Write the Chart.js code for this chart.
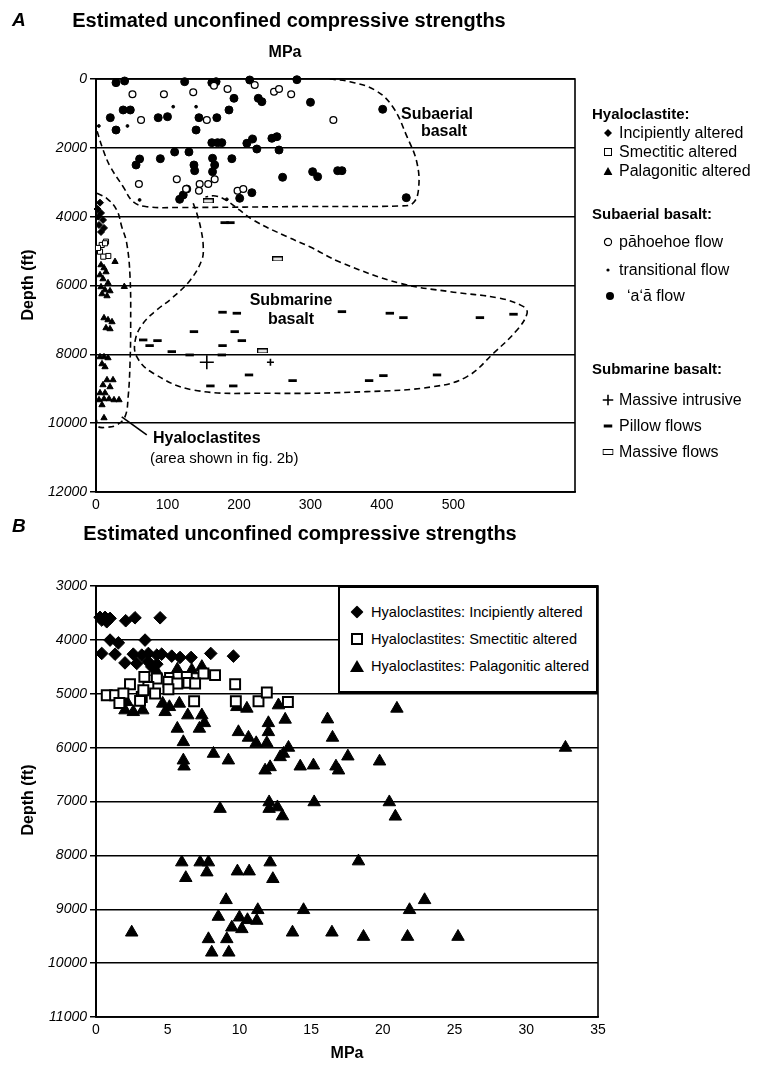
<!DOCTYPE html>
<html lang="en">
<head>
<meta charset="UTF-8">
<title>Estimated unconfined compressive strengths</title>
<script src="https://cdn.jsdelivr.net/npm/chart.js"></script>
<style>
  body { margin: 0; background: #fff; font-family: "Liberation Sans", Arial, Helvetica, sans-serif; color: #000; }
  #page { position: relative; width: 765px; height: 1074px; overflow: hidden; }
  .box { position: absolute; left: 0; }
  .t { position: absolute; white-space: nowrap; line-height: 1; transform: translateY(-50%); }
  .c { transform: translate(-50%, -50%); }
  .b { font-weight: bold; }
  .rot { transform: translate(-50%, -50%) rotate(-90deg); }
  .mk { position: absolute; transform: translate(-50%, -50%); }
  #legendB { position: absolute; left: 338px; top: 586px; width: 260px; height: 107px; box-sizing: border-box;
             border: 2px solid #000; background: #fff; }
  #legendB .t { font-size: 14.6px; }
</style>
</head>
<body>
<div id="page">
  <div class="box" style="top:0;width:765px;height:525px"><canvas id="chartA" width="765" height="525"></canvas></div>
  <div class="box" style="top:525px;width:765px;height:549px"><canvas id="chartB" width="765" height="549"></canvas></div>

  <!-- panel A text -->
  <div class="t b" style="left:12px;top:19px;font-size:19px;font-style:italic">A</div>
  <div class="t c b" style="left:289px;top:20px;font-size:20px">Estimated unconfined compressive strengths</div>
  <div class="t c b" style="left:285px;top:52px;font-size:16px">MPa</div>
  <div class="t rot b" style="left:28px;top:285px;font-size:16px">Depth (ft)</div>
  <div class="t c b" style="left:437px;top:114px;font-size:16px">Subaerial</div>
  <div class="t c b" style="left:444px;top:131px;font-size:16px">basalt</div>
  <div class="t c b" style="left:291px;top:300px;font-size:16px">Submarine</div>
  <div class="t c b" style="left:291px;top:319px;font-size:16px">basalt</div>
  <div class="t b" style="left:153px;top:438px;font-size:16px">Hyaloclastites</div>
  <div class="t" style="left:150px;top:457px;font-size:15px">(area shown in fig. 2b)</div>

  <!-- panel A legend -->
  <div class="t b" style="left:592px;top:113px;font-size:15px">Hyaloclastite:</div>
  <svg class="mk" style="left:608px;top:133px" width="8" height="8"><path d="M4 0 L8 4 L4 8 L0 4 Z" fill="#000"/></svg>
  <div class="t" style="left:619px;top:133px;font-size:16px">Incipiently altered</div>
  <svg class="mk" style="left:608px;top:152px" width="8" height="8"><rect x="0.5" y="0.5" width="7" height="7" fill="#fff" stroke="#000"/></svg>
  <div class="t" style="left:619px;top:152px;font-size:16px">Smectitic altered</div>
  <svg class="mk" style="left:608px;top:171px" width="9" height="8"><path d="M4.5 0 L9 8 L0 8 Z" fill="#000"/></svg>
  <div class="t" style="left:619px;top:171px;font-size:16px">Palagonitic altered</div>

  <div class="t b" style="left:592px;top:213px;font-size:15px">Subaerial basalt:</div>
  <svg class="mk" style="left:608px;top:242px" width="9" height="9"><circle cx="4.5" cy="4.5" r="3.6" fill="#fff" stroke="#000" stroke-width="1.2"/></svg>
  <div class="t" style="left:619px;top:242px;font-size:16px">pāhoehoe flow</div>
  <svg class="mk" style="left:608px;top:270px" width="4" height="4"><circle cx="2" cy="2" r="1.6" fill="#000"/></svg>
  <div class="t" style="left:619px;top:270px;font-size:16px">transitional flow</div>
  <svg class="mk" style="left:610px;top:296px" width="9" height="9"><circle cx="4.5" cy="4.5" r="4" fill="#000"/></svg>
  <div class="t" style="left:627px;top:296px;font-size:16px">ʻaʻā flow</div>

  <div class="t b" style="left:592px;top:368px;font-size:15px">Submarine basalt:</div>
  <svg class="mk" style="left:608px;top:400px" width="11" height="11"><path d="M5.5 0 V11 M0 5.5 H11" stroke="#000" stroke-width="1.6"/></svg>
  <div class="t" style="left:619px;top:400px;font-size:16px">Massive intrusive</div>
  <svg class="mk" style="left:608px;top:426px" width="9" height="4"><rect x="0" y="0.5" width="9" height="3" fill="#000"/></svg>
  <div class="t" style="left:619px;top:426px;font-size:16px">Pillow flows</div>
  <svg class="mk" style="left:608px;top:452px" width="11" height="6"><rect x="0.5" y="0.5" width="10" height="5" fill="#fff" stroke="#000"/></svg>
  <div class="t" style="left:619px;top:452px;font-size:16px">Massive flows</div>

  <!-- panel B text -->
  <div class="t b" style="left:12px;top:525px;font-size:19px;font-style:italic">B</div>
  <div class="t c b" style="left:300px;top:533px;font-size:20px">Estimated unconfined compressive strengths</div>
  <div class="t rot b" style="left:28px;top:800px;font-size:16px">Depth (ft)</div>
  <div class="t c b" style="left:347px;top:1053px;font-size:16px">MPa</div>

  <div id="legendB">
    <svg class="mk" style="left:17px;top:24px" width="13" height="13"><path d="M6.5 0 L13 6.5 L6.5 13 L0 6.5 Z" fill="#000"/></svg>
    <div class="t" style="left:31px;top:24px">Hyaloclastites: Incipiently altered</div>
    <svg class="mk" style="left:17px;top:51px" width="12" height="12"><rect x="1" y="1" width="10" height="10" fill="#fff" stroke="#000" stroke-width="2"/></svg>
    <div class="t" style="left:31px;top:51px">Hyaloclastites: Smectitic altered</div>
    <svg class="mk" style="left:17px;top:78px" width="14" height="12"><path d="M7 0 L14 12 L0 12 Z" fill="#000"/></svg>
    <div class="t" style="left:31px;top:78px">Hyaloclastites: Palagonitic altered</div>
  </div>
</div>

<script>
// ---------- Panel A data: [MPa, depth ft] ----------
const incipientA = [[5.6,3594],[3.2,4000],[7,3893],[9.8,4096],[4.2,4241],[11.2,4328],[7,4445],[2.1,3777]];
const smectiticA = [[8,4822],[14,4726],[5.6,5017],[17.2,5142],[10.2,5162],[12.6,4773],[2.8,4909]];
const palagoniticA = [[26.6,5308],[7,5403],[11.2,5490],[14,5607],[5.6,5694],[9.8,5810],[16.8,5926],[7,6042],
  [12.6,6130],[19.6,6159],[39.6,6034],[8.4,6246],[15.4,6304],[11.2,6943],[16.8,7001],[22.4,7059],[14,7233],
  [19.6,7262],[5.6,8076],[11.2,8076],[16.8,8105],[8.4,8279],[12.6,8366],[15.4,8744],[23.8,8744],[9.8,8889],
  [19.6,8947],[5.6,9122],[12.6,9122],[4.2,9325],[11.2,9296],[18.2,9296],[25.2,9325],[32.2,9325],[8.4,9470],[11.2,9848]];
const pahoehoeA = [[51,444],[95,444],[136,386],[165,195],[184,291],[222,174],[249,369],[256,291],[273,444],
  [63,1191],[155,1191],[332,1191],[60,3050],[113,2914],[145,3050],[157,3050],[166,2914],[144,3245],[198,3245],
  [206,3196],[126,3196]];
const transitionalA = [[108,805],[140,805],[44,1365],[4,1365],[61,3515],[183,3495]];
const aaA = [[28,107],[40,58],[124,78],[162,107],[168,78],[215,29],[281,20],[193,561],[227,561],[232,659],
  [300,677],[38,900],[48,900],[186,900],[20,1124],[87,1124],[100,1095],[144,1124],[169,1124],[28,1482],[140,1482],
  [162,1850],[170,1850],[176,1850],[211,1868],[219,1743],[246,1723],[253,1676],[225,2034],[256,2063],[110,2121],
  [130,2121],[61,2324],[56,2498],[90,2315],[137,2498],[138,2664],[163,2304],[166,2498],[163,2693],[190,2315],
  [261,2856],[127,3196],[117,3495],[122,3370],[218,3303],[201,3466],[401,880],[303,2693],[310,2838],[338,2664],
  [344,2664],[434,3448]];
const intrusiveA = [[155,8230],[244,8230]];
const pillowA = [[180,4174],[188,4174],[177,6777],[197,6806],[344,6760],[411,6806],[430,6934],[537,6934],
  [584,6835],[137,7341],[194,7341],[66,7582],[86,7602],[75,7747],[204,7602],[177,7747],[106,7922],[131,8018],
  [176,8018],[214,8599],[275,8764],[382,8764],[402,8619],[477,8599],[160,8918],[192,8918]];
const massiveFlowA = [[157,3544],[254,5229],[233,7902]];

// dashed field outlines (MPa, depth)
const subaerialOutline = [[327,0],[355,78],[390,320],[415,805],[435,1676],[449,2440],[451,3225],[443,3611],
  [425,3689],[299,3704],[118,3733],[71,3710],[52,3564],[38,3129],[20,2548],[10,2063],[1,1482]];
const submarineOutline = [[136,3611],[141,3901],[147,4387],[150,4872],[148,5258],[132,5839],[106,6371],
  [85,6711],[66,7097],[55,7579],[57,8067],[80,8549],[136,9035],[239,9131],[379,9084],[472,8939],[519,8648],
  [556,7968],[589,7291],[603,6807],[598,6615],[565,6371],[495,6179],[425,5935],[341,5316],[299,4872],
  [267,4581],[220,4096],[183,3535],[167,3399],[153,3428]];
const hyaloOutline = [[1.4,3320],[15,3466],[29,3806],[36,4291],[43,4773],[47.6,5743],[48.5,7097],[47.6,8259],
  [45,9229],[40.6,9810],[29,10051],[15,10118],[3.2,10101],[0.7,9906]];
const hyaloLeader = [[36,9819],[71,10342]];

const xTicksA = [0, 100, 200, 300, 400, 500];

// ---------- Panel B data: [MPa, depth ft] ----------
const incipientB = [[0.28,3582],[0.63,3582],[0.98,3601],[0.75,3664],[0.4,3632],[2.07,3645],[2.72,3590],
  [4.47,3590],[0.98,4004],[1.56,4055],[3.42,4004],[0.4,4252],[1.33,4265],[2.6,4265],[3.19,4283],[3.65,4252],
  [4.24,4283],[4.58,4265],[5.28,4302],[5.86,4326],[6.63,4326],[8.0,4252],[9.58,4302],[2.02,4427],[2.84,4438],
  [3.65,4408],[4.24,4451],[3.89,4501]];
const smectiticB = [[3.37,4687],[4.24,4717],[5.16,4706],[5.74,4687],[6.33,4687],[7.49,4624],[8.3,4655],
  [2.37,4823],[3.65,4873],[5.05,4780],[5.67,4810],[6.44,4799],[6.91,4810],[9.7,4823],[0.75,5027],[1.33,5027],
  [1.91,4996],[3.19,5059],[4.12,4996],[5.05,4916],[1.63,5171],[3.07,5133],[3.3,4934],[6.84,5139],[9.75,5139],
  [11.33,5139],[11.91,4977],[13.38,5152]];
const palagoniticB = [[2.14,5152],[2.02,5306],[2.6,5338],[3.26,5306],[4.65,5182],[4.82,5338],[5.12,5245],
  [5.81,5182],[4.24,4594],[5.67,4549],[6.68,4562],[7.38,4501],[6.4,5399],[7.38,5399],[7.56,5543],[5.67,5647],
  [7.21,5647],[6.09,5896],[9.82,5245],[10.52,5275],[12.72,5213],[13.19,5479],[16.14,5474],[12.02,5543],
  [9.93,5710],[10.63,5814],[11.17,5915],[12.02,5710],[11.91,5915],[16.49,5814],[13.42,6000],[13.07,6112],
  [12.84,6175],[8.19,6112],[9.23,6236],[6.09,6236],[6.14,6348],[12.14,6361],[11.79,6422],[14.24,6348],
  [15.16,6329],[16.73,6348],[20.98,5275],[17.56,6162],[19.77,6255],[16.91,6422],[32.73,6000],
  [8.65,7135],[12.07,7012],[12.07,7135],[12.65,7105],[13.0,7273],[15.21,7012],[20.45,7012],[20.87,7278],
  [5.98,8128],[7.26,8128],[7.84,8128],[7.73,8314],[6.26,8418],[9.86,8296],[10.68,8296],[12.14,8128],
  [12.33,8437],[18.3,8109],[9.07,8828],[8.53,9138],[10.0,9151],[10.56,9199],[11.21,9212],[11.28,9013],
  [9.47,9337],[10.17,9367],[14.47,9013],[21.86,9013],[22.91,8828],[2.49,9430],[13.7,9430],[16.45,9430],
  [18.65,9510],[21.72,9510],[25.24,9510],[7.84,9553],[9.12,9553],[8.07,9802],[9.26,9802]];

const FONT = '"Liberation Sans", Arial, Helvetica, sans-serif';

function pts(arr) { return arr.map(p => ({ x: p[0], y: p[1] })); }

function marker(label, data, style, radius, fill, extra) {
  return Object.assign({
    label: label, data: pts(data), pointStyle: style, pointRadius: radius,
    backgroundColor: fill, borderColor: '#000', borderWidth: 1, showLine: false, clip: false
  }, extra || {});
}

function outline(data, dashed) {
  return {
    data: pts(data), showLine: true, pointRadius: 0, borderColor: '#000', borderWidth: 1.6,
    borderDash: dashed ? [6, 4] : [], tension: dashed ? 0.4 : 0, fill: false
  };
}

// massive flow symbol: small open bar
function massiveFlowSymbol() {
  const c = document.createElement('canvas');
  c.width = 11; c.height = 5;
  const g = c.getContext('2d');
  g.fillStyle = '#fff'; g.fillRect(0, 0, 11, 5);
  g.strokeStyle = '#000'; g.lineWidth = 1.2;
  g.strokeRect(0.6, 0.6, 9.8, 3.8);
  return c;
}

// box around plot area
const frame = {
  id: 'frame',
  beforeDatasetsDraw(chart) {
    const a = chart.chartArea, ctx = chart.ctx;
    ctx.save();
    ctx.strokeStyle = '#000';
    ctx.lineWidth = 1.6;
    ctx.strokeRect(a.left, a.top, a.right - a.left, a.bottom - a.top);
    ctx.restore();
  }
};

function axes(xMin, xMax, xStep, xShow, yMin, yMax, yStep, yWidth) {
  return {
    x: {
      type: 'linear', min: xMin, max: xMax,
      grid: { display: false, drawTicks: false },
      border: { display: true, color: '#000', width: 1.6 },
      ticks: {
        stepSize: xStep, autoSkip: false, maxRotation: 0, color: '#000', padding: 5,
        font: { family: FONT, size: 14 },
        callback: v => (v <= xShow ? String(v) : '')
      },
      afterFit: s => { s.height = 28; }
    },
    y: {
      type: 'linear', reverse: true, min: yMin, max: yMax,
      grid: { color: '#000', lineWidth: 1.5, tickLength: 6 },
      border: { display: true, color: '#000', width: 2 },
      ticks: {
        stepSize: yStep, color: '#000', padding: 3,
        font: { family: FONT, size: 14, style: 'italic' },
        callback: v => String(v)
      },
      afterFit: s => { s.width = yWidth; }
    }
  };
}

const baseOptions = {
  responsive: false,
  animation: false,
  events: [],
  plugins: { legend: { display: false }, tooltip: { enabled: false } }
};

// Panel A
new Chart(document.getElementById('chartA'), {
  type: 'scatter',
  data: {
    datasets: [
      marker('Incipiently altered', incipientA, 'rectRot', 3.5, '#000'),
      marker('Smectitic altered', smectiticA, 'rect', 3.6, '#fff'),
      marker('Palagonitic altered', palagoniticA, 'triangle', 3.6, '#000'),
      marker('pāhoehoe flow', pahoehoeA, 'circle', 3.4, '#fff', { borderWidth: 1.3 }),
      marker('transitional flow', transitionalA, 'circle', 1.4, '#000'),
      marker('ʻaʻā flow', aaA, 'circle', 4, '#000'),
      marker('Massive intrusive', intrusiveA, 'cross', [7, 3.5], '#000', { borderWidth: 1.6 }),
      marker('Pillow flows', pillowA, 'line', 4.2, '#000', { borderWidth: 2.8 }),
      marker('Massive flows', massiveFlowA, massiveFlowSymbol(), 5, '#fff'),
      outline(subaerialOutline, true),
      outline(submarineOutline, true),
      outline(hyaloOutline, true),
      Object.assign(outline(hyaloLeader, false), { clip: false })
    ]
  },
  options: Object.assign({}, baseOptions, {
    layout: { padding: { top: 79, right: 190, left: 0, bottom: 5 } },
    scales: axes(0, 670, 100, xTicksA[xTicksA.length - 1], 0, 12000, 2000, 96)
  }),
  plugins: [frame]
});

// Panel B
new Chart(document.getElementById('chartB'), {
  type: 'scatter',
  data: {
    datasets: [
      marker('Hyaloclastites: Smectitic altered', smectiticB, 'rect', 7, '#fff', { borderWidth: 2 }),
      marker('Hyaloclastites: Incipiently altered', incipientB, 'rectRot', 6.3, '#000'),
      marker('Hyaloclastites: Palagonitic altered', palagoniticB, 'triangle', 7.2, '#000')
    ]
  },
  options: Object.assign({}, baseOptions, {
    layout: { padding: { top: 61, right: 167, left: 0, bottom: 29 } },
    scales: axes(0, 35, 5, 35, 3000, 11000, 1000, 96)
  }),
  plugins: [frame]
});
</script>
</body>
</html>
